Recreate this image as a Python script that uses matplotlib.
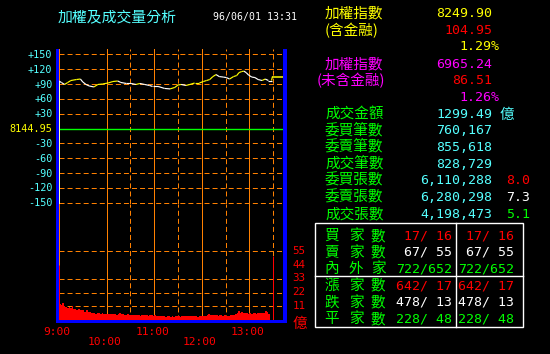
import numpy as np
import matplotlib
matplotlib.use('Agg')
import matplotlib.pyplot as plt
from matplotlib.collections import LineCollection
from matplotlib.patches import Rectangle
from matplotlib.lines import Line2D
from matplotlib.transforms import blended_transform_factory, offset_copy

plt.rcParams['lines.scale_dashes'] = False

# ---------------- data ----------------
title = '加權及成交量分析'
date_str = '96/06/01 13:31'
ref_index = 8144.95

# minutes after 9:00, change vs reference index
price_times = [0, 3, 7, 11, 15, 22, 27, 30, 34, 38, 44, 49, 55, 62, 68, 74, 78, 85,
               91, 97, 102, 108, 114, 118, 125, 133, 140, 146, 150, 154, 160, 165,
               171, 177, 182, 186, 190, 194, 198, 202, 207, 211, 215, 220, 224, 227,
               230, 233, 236, 239, 243, 247, 251, 256, 260, 264, 268, 269]
price_change = [96, 93, 89, 93, 97, 99, 100, 94, 89, 86, 84, 89, 90, 92, 95, 96, 93, 91,
                91, 89, 91, 89, 87, 85, 85, 81, 80, 83, 88, 89, 87, 89,
                92, 92, 95, 97, 99, 105, 109, 105, 104, 103, 100, 105, 107, 113,
                115, 116, 113, 108, 104, 103, 99, 97, 100, 97, 97, 105]

price_ticks = [150, 120, 90, 60, 30, 0, -30, -60, -90, -120, -150]
price_tick_labels = ['+150', '+120', '+90', '+60', '+30', '8144.95',
                     '-30', '-60', '-90', '-120', '-150']

vol_times = np.arange(0, 266, 2)
vol_values = [13.0, 12.0, 13.4, 11.0, 10.5, 10.0, 10.8, 9.4, 11.2, 9.0,
              8.8, 8.4, 9.0, 8.0, 7.8, 8.2, 6.8, 8.0, 6.6, 6.4,
              5.8, 5.4, 5.6, 5.2, 5.8, 5.4, 5.0, 5.6, 5.2, 4.8,
              5.0, 4.6, 5.2, 4.8, 4.6, 5.0, 4.4, 4.8, 5.4, 4.6,
              4.8, 4.4, 4.2, 4.8, 4.4, 4.0, 4.4, 4.0, 3.8, 4.4,
              4.0, 3.6, 4.2, 3.8, 4.0, 4.4, 3.6, 3.8, 4.2, 3.4,
              3.8, 3.6, 3.2, 3.4, 3.0, 3.6, 3.2, 2.8, 3.0, 3.4,
              2.8, 3.2, 2.6, 3.0, 3.4, 3.0, 2.8, 3.2, 3.0, 3.4,
              3.2, 3.0, 3.6, 3.2, 3.0, 3.4, 3.2, 2.8, 3.2, 3.0,
              3.4, 3.2, 3.6, 4.2, 4.6, 3.8, 4.0, 4.4, 3.8, 4.2,
              3.6, 4.0, 3.8, 3.4, 3.8, 3.4, 3.6, 3.2, 3.8, 4.4,
              4.0, 5.2, 6.0, 7.2, 5.6, 6.2, 5.4, 6.0, 5.6, 5.2,
              5.8, 5.0, 5.4, 5.6, 5.2, 5.8, 5.4, 6.0, 5.6, 5.8,
              7.2, 6.2, 5.0]
open_volume = 44
close_volume = 51
close_time = 270

vol_tick_values = [55, 44, 33, 22, 11]
vol_tick_labels = ['55', '44', '33', '22', '11']
vol_grid = [55, 33, 22, 11]
vol_unit = '億'

hour_ticks = [0, 60, 120, 180, 240]
hour_labels = ['9:00', '10:00', '11:00', '12:00', '13:00']
half_ticks = [90, 150, 210, 270]

index_value, index_change, index_pct = 8249.90, 104.95, 1.29
exfin_value, exfin_change, exfin_pct = 6965.24, 86.51, 1.26
turnover = 1299.49
stats_labels = ['委買筆數', '委賣筆數', '成交筆數', '委買張數', '委賣張數', '成交張數']
stats_values = [760167, 855618, 828729, 6110288, 6280298, 4198473]
ratio_values = ['8.0', '7.3', '5.1']
ratio_colors = ['#FF0000', '#FFFFFF', '#00FF00']

breadth_labels = ['買家數', '賣家數', '內外家', '漲家數', '跌家數', '平家數']
breadth_left = [(17, 16), (67, 55), (722, 652), (642, 17), (478, 13), (228, 48)]
breadth_right = [(17, 16), (67, 55), (722, 652), (642, 17), (478, 13), (228, 48)]
breadth_colors = ['#FF0000', '#FFFFFF', '#00FF00', '#FF0000', '#FFFFFF', '#00FF00']

# ---------------- style ----------------
W, H = 550, 354
BLACK = '#000000'
CYAN = '#55FFFF'
YELLOW = '#FFFF00'
RED = '#FF0000'
MAGENTA = '#FF00FF'
GREEN = '#00FF00'
WHITE = '#FFFFFF'
ORANGE = '#FF8000'
BLUE = '#0000FF'
MONO = 'DejaVu Sans Mono'
CJK = ['Noto Sans CJK TC', 'DejaVu Sans']
PX = 0.72  # one pixel in points
DASH = (0, (3.6, 2.2))

fig = plt.figure(figsize=(5.5, 3.54), dpi=100, facecolor=BLACK)


def fx(x):
    return x / W


def fy(y):
    return 1 - y / H


def ftext(x, yc, s, color, size, family=MONO, ha='left', kind='mono'):
    em = size * 100 / 72
    k = 0.365 if kind == 'mono' else 0.38
    base = yc + k * em
    fig.text(fx(x), fy(base), s, color=color, fontsize=size, family=family,
             ha=ha, va='baseline')


L, R = 59, 283
ax_p = fig.add_axes([fx(L), fy(204), (R - L) / W, (204 - 49) / H])
ax_v = fig.add_axes([fx(L), fy(320), (R - L) / W, (320 - 204) / H])
for ax in (ax_p, ax_v):
    ax.set_facecolor(BLACK)
    ax.set_xlim(0, 282.4)
    for s in ax.spines.values():
        s.set_visible(False)
    ax.set_xticks([])
    ax.set_yticks([])
    for t in hour_ticks:
        ax.axvline(t, color=ORANGE, lw=PX, zorder=1)
    for t in half_ticks:
        ax.axvline(t, color=ORANGE, lw=PX, ls=DASH, zorder=1)

ax_p.set_ylim(-152.6, 160.7)
ax_v.set_ylim(0, 93.1)

for v in price_ticks:
    if v == 0:
        ax_p.axhline(v, color=GREEN, lw=1.0, zorder=2)
    else:
        ax_p.axhline(v, color=ORANGE, lw=PX, ls=DASH, zorder=1)
for v in vol_grid:
    ax_v.axhline(v, color=ORANGE, lw=PX, ls=DASH, zorder=1)

# opening line in price panel
ax_p.vlines(price_times[0], ax_p.get_ylim()[0], price_change[0], color='#FFFFA0', lw=PX, zorder=3)

# price line coloured by direction
pts = np.column_stack([price_times, price_change])
segs = np.stack([pts[:-1], pts[1:]], axis=1)
cols = []
last = YELLOW
for a, b in zip(price_change[:-1], price_change[1:]):
    if b > a:
        last = YELLOW
    elif b < a:
        last = WHITE
    cols.append(last)
ax_p.add_collection(LineCollection(segs, colors=cols, linewidths=0.85, zorder=4))
ax_p.hlines(price_change[-1], price_times[-1], ax_p.get_xlim()[1], color=YELLOW, lw=1.1, zorder=4)

# volume bars
ax_v.bar(vol_times, vol_values, width=2, align='edge', color=RED, linewidth=0, zorder=3)
ax_v.vlines([0, close_time], 0, [open_volume, close_volume], color=RED, lw=PX, zorder=3)

# price axis labels
tr = offset_copy(blended_transform_factory(fig.transFigure, ax_p.transData), fig=fig,
                 x=0, y=-3.6, units='dots')
for v, lab in zip(price_ticks, price_tick_labels):
    ax_p.text(fx(52.5), v, lab, transform=tr, ha='right', va='baseline',
              color=YELLOW if v == 0 else CYAN, fontsize=7.3, family=MONO, clip_on=False)

# volume axis labels
trv = offset_copy(blended_transform_factory(fig.transFigure, ax_v.transData), fig=fig,
                  x=0, y=-3.9, units='dots')
for v, lab in zip(vol_tick_values, vol_tick_labels):
    ax_v.text(fx(292.5), v + 1.2, lab, transform=trv, ha='left', va='baseline',
              color=RED, fontsize=7.8, family=MONO, clip_on=False)
trc = offset_copy(blended_transform_factory(fig.transFigure, ax_v.transData), fig=fig,
                  x=0, y=-6.5, units='dots')
ax_v.text(fx(292.5), -1.2, vol_unit, transform=trc, ha='left', va='baseline',
          color=RED, fontsize=10.5, family=CJK, clip_on=False)

# time labels
trt = offset_copy(blended_transform_factory(ax_v.transData, fig.transFigure), fig=fig,
                  x=-2, y=0, units='dots')
for i, (t, lab) in enumerate(zip(hour_ticks, hour_labels)):
    yc = 331 if i % 2 == 0 else 340.7
    ax_v.text(t, fy(yc + 4.1), lab, transform=trt, ha='center', va='baseline',
              color=RED, fontsize=8.1, family=MONO, clip_on=False)

# blue frame
for (x0, y0, x1, y1) in [(56, 49, 59.3, 323.3), (283, 49, 287, 323.3), (56, 320, 287, 323.3)]:
    fig.add_artist(Rectangle((fx(x0), fy(y1)), (x1 - x0) / W, (y1 - y0) / H,
                             transform=fig.transFigure, color=BLUE, lw=0, zorder=5))

# header
ftext(58, 16.5, title, CYAN, 10.7, CJK, kind='cjk')
ftext(213, 16.5, date_str, WHITE, 7.1)

# right panel
NUM = 9.5
LAB = 10.5
ftext(325, 12, '加權指數', YELLOW, LAB, CJK, kind='cjk')
ftext(492, 12, f'{index_value:.2f}', YELLOW, NUM, ha='right')
ftext(325, 29.5, '(含金融)', YELLOW, LAB, CJK, kind='cjk')
ftext(492, 29.5, f'{index_change:.2f}', RED, NUM, ha='right')
ftext(499.5, 45.5, f'{index_pct:.2f}%', YELLOW, NUM, ha='right')
ftext(325, 63, '加權指數', MAGENTA, LAB, CJK, kind='cjk')
ftext(492, 63, f'{exfin_value:.2f}', MAGENTA, NUM, ha='right')
ftext(317, 79.5, '(未含金融)', MAGENTA, LAB, CJK, kind='cjk')
ftext(492, 79.5, f'{exfin_change:.2f}', RED, NUM, ha='right')
ftext(499.5, 96, f'{exfin_pct:.2f}%', MAGENTA, NUM, ha='right')
ftext(325, 113, '成交金額', GREEN, LAB, CJK, kind='cjk')
ftext(492, 113, f'{turnover:.2f}', CYAN, NUM, ha='right')
ftext(500, 113, '億', CYAN, LAB, CJK, kind='cjk')
row_y = [129.5, 146, 162.7, 179.3, 196, 212.7]
for i, (lab, val) in enumerate(zip(stats_labels, stats_values)):
    ftext(325, row_y[i], lab, GREEN, LAB, CJK, kind='cjk')
    ftext(492, row_y[i], f'{val:,}', CYAN, NUM, ha='right')
for j, (r, c) in enumerate(zip(ratio_values, ratio_colors)):
    ftext(530, row_y[3 + j], r, c, NUM, ha='right')

# breadth table
fig.add_artist(Rectangle((fx(315), fy(327.3)), (523.3 - 315) / W, (327.3 - 223.3) / H,
                         transform=fig.transFigure, fill=False, edgecolor=WHITE, lw=1.0, zorder=5))
fig.add_artist(Line2D([fx(455.7), fx(455.7)], [fy(223.3), fy(327.3)], transform=fig.transFigure,
                      color=WHITE, lw=1.0, zorder=5))
fig.add_artist(Line2D([fx(315), fx(523.3)], [fy(275.7), fy(275.7)], transform=fig.transFigure,
                      color=WHITE, lw=1.0, zorder=5))
tab_y = [234.5, 251, 267.3, 284.3, 301, 317.7]
char_x = [332, 356, 378]
for i, lab in enumerate(breadth_labels):
    for ch, cx in zip(lab, char_x):
        ftext(cx, tab_y[i], ch, GREEN, LAB, CJK, ha='center', kind='cjk')
    a, b = breadth_left[i]
    ftext(452, tab_y[i], f'{a:>3d}/{b:>3d}', breadth_colors[i], NUM, ha='right')
    a, b = breadth_right[i]
    ftext(514.5, tab_y[i], f'{a:>3d}/{b:>3d}', breadth_colors[i], NUM, ha='right')

fig.savefig('out.png', dpi=100, facecolor=BLACK)
